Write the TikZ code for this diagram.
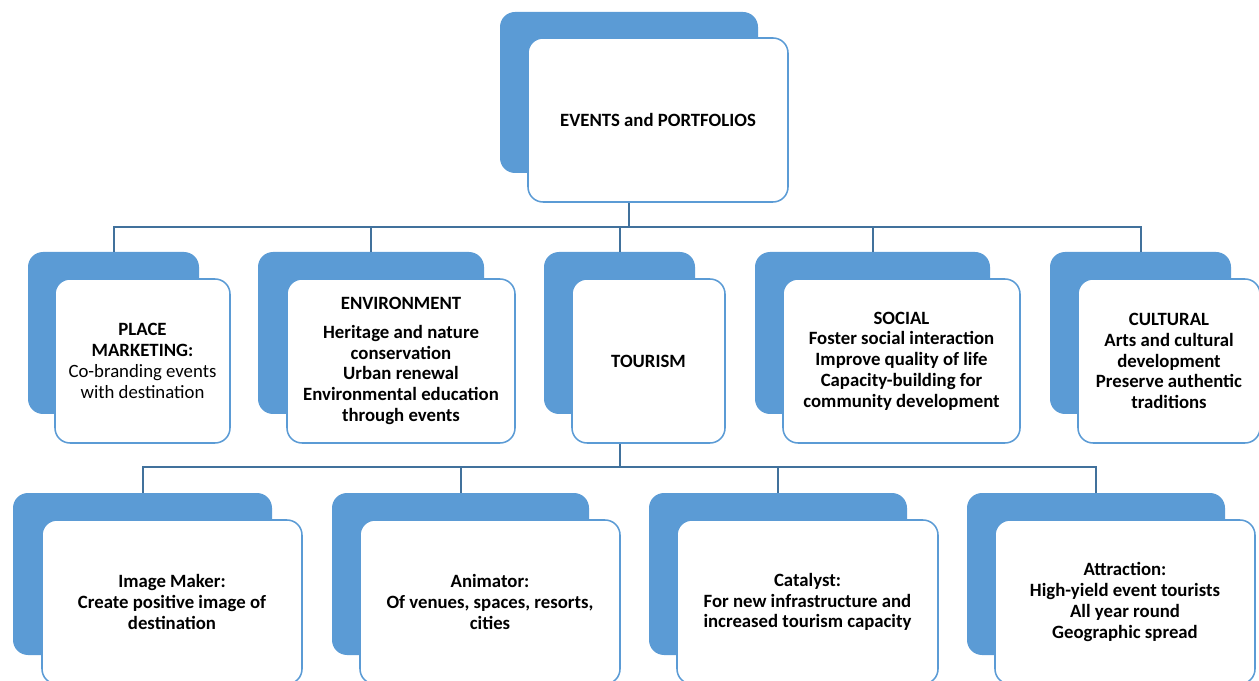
\documentclass[tikz,border=0pt]{standalone}
\usepackage{fontspec}
\setmainfont{Carlito}
\definecolor{cornflower}{RGB}{91, 155, 213}
\definecolor{steelblue}{RGB}{65, 113, 156}
\newlength{\pixunit}
\setlength{\pixunit}{0.65pt}

\begin{document}
\begin{tikzpicture}[x=0.65pt, y=-0.65pt,
    backbox/.style={fill=cornflower, rounded corners=15\pixunit, inner sep=0pt},
    frontbox/.style={fill=white, draw=cornflower, line width=1pt, rounded corners=15\pixunit,
                     inner sep=2pt, align=center, font=\fontsize{12.2pt}{13.5pt}\selectfont\bfseries},
    link/.style={draw=steelblue, line width=1.3pt}]
            \useasboundingbox (0,0) rectangle (1259,681);
            % top
            \node[backbox,  minimum width=258\pixunit, minimum height=161\pixunit] (portfolios-bg)  at ( 629.0,  92.5) {};
            \node[frontbox, minimum width=260\pixunit, minimum height=164\pixunit] (portfolios)     at ( 658.0, 120.0) {EVENTS and PORTFOLIOS};
            % portfolios
            \node[backbox,  minimum width=171\pixunit, minimum height=162\pixunit] (place-bg)       at ( 113.5, 333.0) {};
            \node[frontbox, minimum width=175\pixunit, minimum height=164\pixunit] (place)          at ( 142.5, 361.0) {PLACE\\MARKETING:\\{\mdseries Co-branding events}\\{\mdseries with destination}};
            \node[backbox,  minimum width=226\pixunit, minimum height=162\pixunit] (environment-bg) at ( 371.0, 333.0) {};
            \node[frontbox, minimum width=228\pixunit, minimum height=164\pixunit] (environment)    at ( 401.0, 361.0) {ENVIRONMENT\\[5pt]Heritage and nature\\conservation\\Urban renewal\\Environmental education\\through events};
            \node[backbox,  minimum width=151\pixunit, minimum height=162\pixunit] (tourism-bg)     at ( 619.5, 333.0) {};
            \node[frontbox, minimum width=153\pixunit, minimum height=164\pixunit] (tourism)        at ( 648.5, 361.0) {TOURISM};
            \node[backbox,  minimum width=235\pixunit, minimum height=162\pixunit] (social-bg)      at ( 872.5, 333.0) {};
            \node[frontbox, minimum width=237\pixunit, minimum height=164\pixunit] (social)         at ( 901.5, 361.0) {SOCIAL\\Foster social interaction\\Improve quality of life\\Capacity-building for\\community development};
            \node[backbox,  minimum width=181\pixunit, minimum height=162\pixunit] (cultural-bg)    at (1140.5, 333.0) {};
            \node[frontbox, minimum width=182\pixunit, minimum height=164\pixunit] (cultural)       at (1169.0, 361.0) {CULTURAL\\Arts and cultural\\development\\Preserve authentic\\traditions};
            % tourism roles
            \node[backbox,  minimum width=259\pixunit, minimum height=162\pixunit] (imagemaker-bg)  at ( 142.5, 574.0) {};
            \node[frontbox, minimum width=260\pixunit, minimum height=164\pixunit] (imagemaker)     at ( 172.0, 602.0) {Image Maker:\\Create positive image of\\destination};
            \node[backbox,  minimum width=257\pixunit, minimum height=162\pixunit] (animator-bg)    at ( 460.5, 574.0) {};
            \node[frontbox, minimum width=260\pixunit, minimum height=164\pixunit] (animator)       at ( 490.0, 602.0) {Animator:\\Of venues, spaces, resorts,\\cities};
            \node[backbox,  minimum width=258\pixunit, minimum height=162\pixunit] (catalyst-bg)    at ( 778.0, 574.0) {};
            \node[frontbox, minimum width=261\pixunit, minimum height=164\pixunit] (catalyst)       at ( 807.5, 602.0) {Catalyst:\\For new infrastructure and\\increased tourism capacity};
            \node[backbox,  minimum width=258\pixunit, minimum height=162\pixunit] (attraction-bg)  at (1096.0, 574.0) {};
            \node[frontbox, minimum width=260\pixunit, minimum height=164\pixunit] (attraction)     at (1125.0, 602.0) {Attraction:\\High-yield event tourists\\All year round\\Geographic spread};
            % connectors
            \coordinate (bus1) at (629.0, 227.0);
            \coordinate (bus2) at (619.5, 467.0);
            \draw[link] (portfolios-bg |- portfolios.south) -- (bus1);
            \foreach \n in {place, environment, tourism, social, cultural}
                \draw[link] (\n-bg.north) |- (bus1);
            \draw[link] (tourism-bg |- tourism.south) -- (bus2);
            \foreach \n in {imagemaker, animator, catalyst, attraction}
                \draw[link] (\n-bg.north) |- (bus2);
        \end{tikzpicture}
\end{document}
